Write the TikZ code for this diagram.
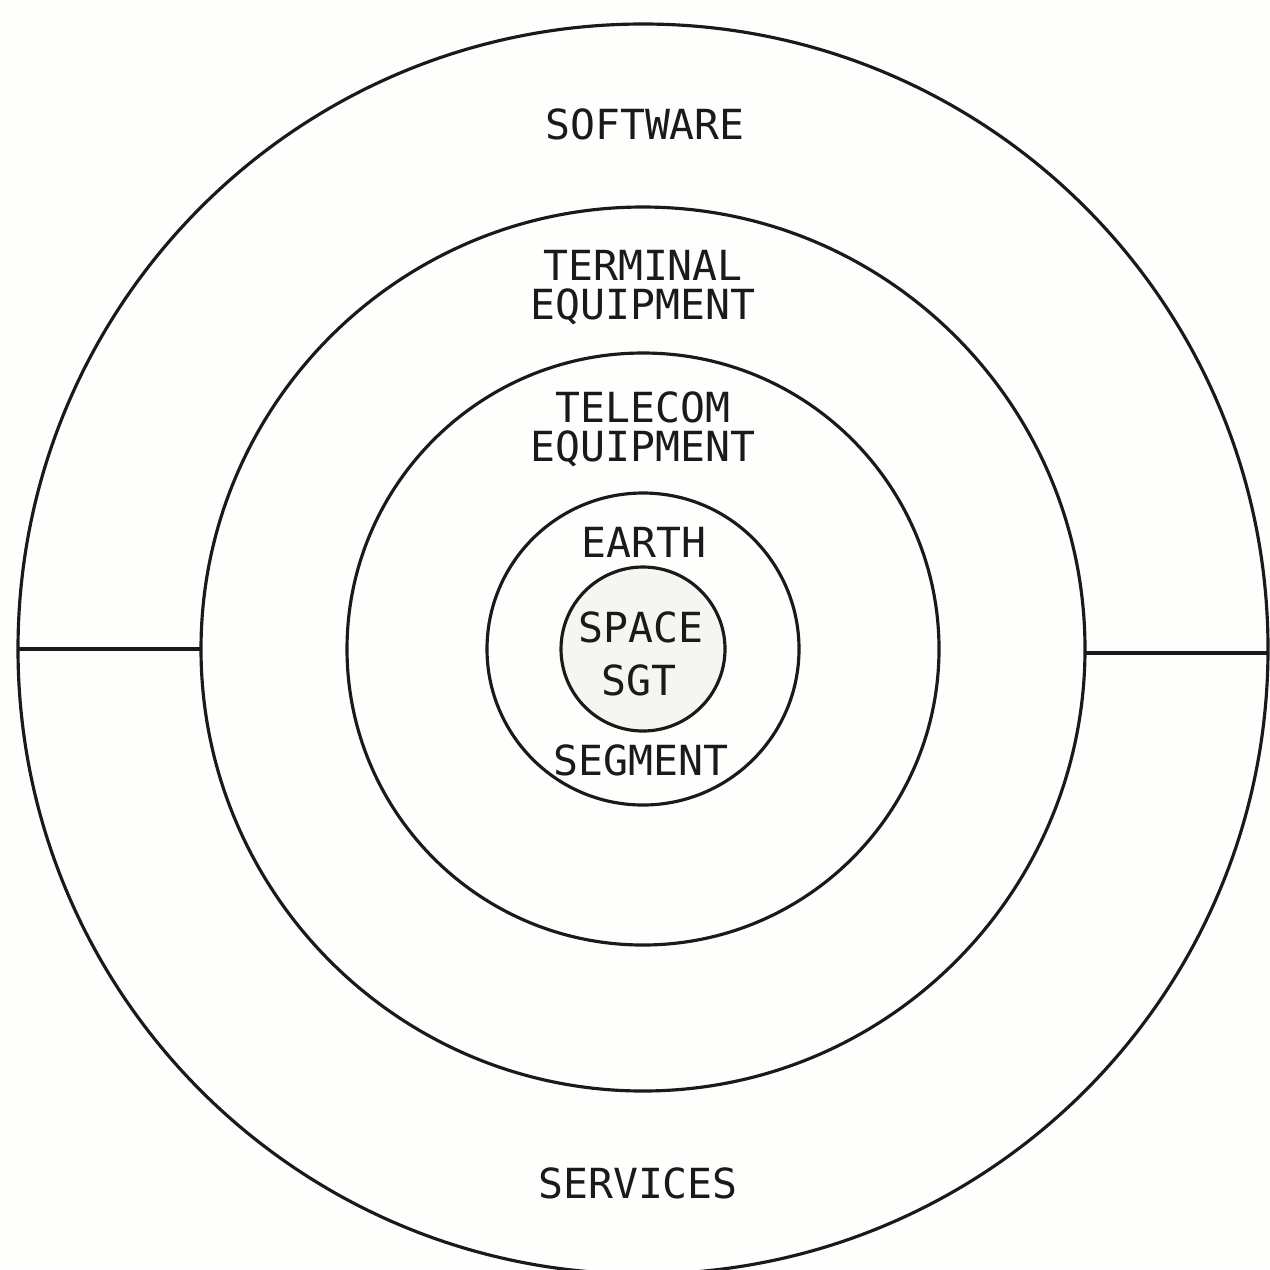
\documentclass[tikz,border=0pt]{standalone}
\usepackage{fontspec}
\setmonofont{DejaVu Sans Mono}
\usepackage{tikz}
\usetikzlibrary{positioning}
\definecolor{cInk}  {HTML}{1A1A1A}
\definecolor{cCore} {HTML}{F5F5F2}
\definecolor{cPaper}{HTML}{FEFEFC}

\begin{document}
\begin{tikzpicture}[x=0.1mm, y=-0.1mm,
    ring/.style={circle, draw=cInk, line width=0.9pt, inner sep=0pt, outer sep=0pt, minimum size=#1},
    lbl/.style={font=\ttfamily\fontsize{11.8}{11.1}\selectfont, text=cInk, align=center, inner sep=0pt}]
  \fill[cPaper] (0,0) rectangle (1270,1269);
  \useasboundingbox (0,0) rectangle (1270,1269);
  \coordinate (c) at (643,649);
  % rings, outermost first
  \node[ring=125mm]  (soft)  at (c) {};
  \node[ring=88.4mm] (term)  at (c) {};
  \node[ring=59.2mm] (tele)  at (c) {};
  \node[ring=31.2mm] (earth) at (c) {};
  \node[ring=16.4mm, fill=cCore] (core) at (c) {};
  % split of the outer ring
  \draw[cInk, line width=0.9pt] (soft.west) -- (term.west);
  \draw[cInk, line width=0.9pt] ([yshift=-0.4mm]term.east) -- ([yshift=-0.4mm]soft.east);
  % labels
  \node[lbl] (software) at (645,124)  {SOFTWARE};
  \node[lbl] (terminal) at (643,288)  {TERMINAL\\EQUIPMENT};
  \node[lbl] (telecom)  at (643,429)  {TELECOM\\EQUIPMENT};
  \node[lbl] (earthlbl) at (644,542)  {EARTH};
  \node[lbl] (space)    at (641,627)  {SPACE};
  \node[lbl] (sgt)      at (639,680)  {SGT};
  \node[lbl] (segment)  at (641,760)  {SEGMENT};
  \node[lbl] (services) at (638,1183) {SERVICES};
\end{tikzpicture}
\end{document}
